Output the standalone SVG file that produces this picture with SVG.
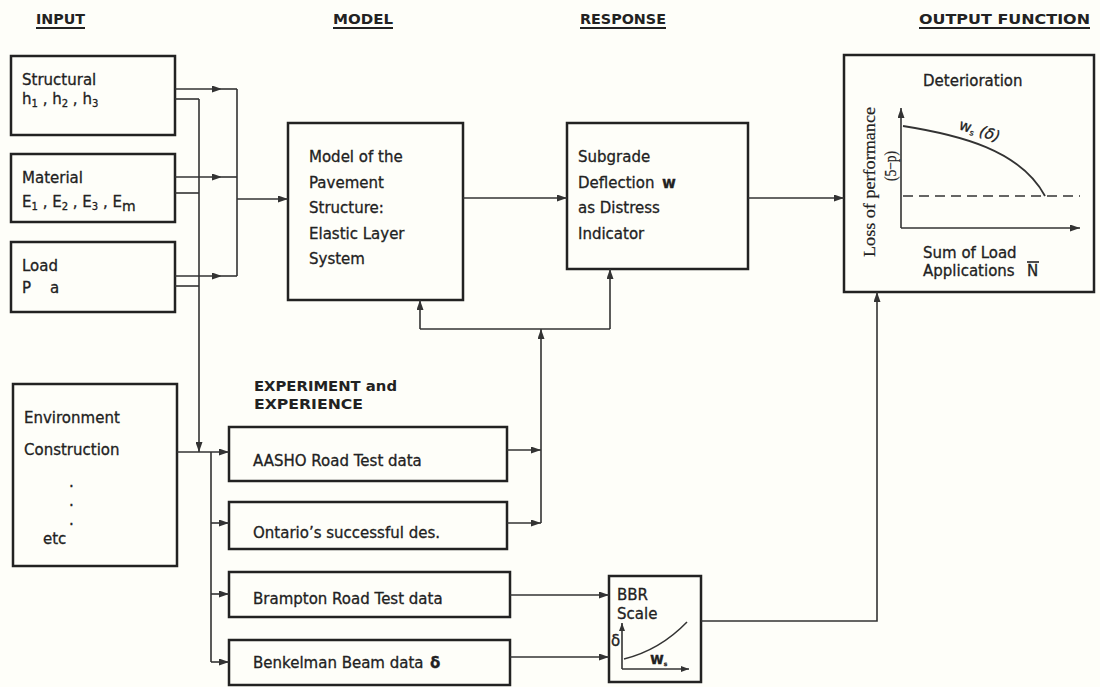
<svg xmlns="http://www.w3.org/2000/svg" width="1100" height="687" viewBox="0 0 1100 687">
<defs>
<marker id="ar" markerUnits="userSpaceOnUse" markerWidth="10" markerHeight="7" refX="10" refY="3.5" orient="auto">
<path d="M0,0 L10,3.5 L0,7 z" fill="#333"/>
</marker>
<marker id="arS" markerUnits="userSpaceOnUse" markerWidth="8" markerHeight="6" refX="8" refY="3" orient="auto">
<path d="M0,0 L8,3 L0,6 z" fill="#333"/>
</marker>
<style>
.box{fill:none;stroke:#222;stroke-width:2.5}
.ln{fill:none;stroke:#333;stroke-width:1.6}
.t{font-family:"DejaVu Sans",sans-serif;font-size:15px;fill:#222;stroke:#222;stroke-width:0.3}
.h{font-family:"DejaVu Sans",sans-serif;font-size:14.5px;font-weight:bold;fill:#222}
.ul{stroke:#222;stroke-width:2}
.sub{font-size:10px}
</style>
</defs>
<rect width="1100" height="687" fill="#fefef9"/>

<g id="headers">
<text class="h" x="36" y="24" textLength="49" lengthAdjust="spacingAndGlyphs">INPUT</text>
<line class="ul" x1="36" y1="28" x2="85" y2="28"/>
<text class="h" x="333" y="24" textLength="60" lengthAdjust="spacingAndGlyphs">MODEL</text>
<line class="ul" x1="333" y1="28" x2="393" y2="28"/>
<text class="h" x="580" y="24" textLength="86" lengthAdjust="spacingAndGlyphs">RESPONSE</text>
<line class="ul" x1="580" y1="28" x2="666" y2="28"/>
<text class="h" x="919" y="24" textLength="171" lengthAdjust="spacingAndGlyphs">OUTPUT FUNCTION</text>
<line class="ul" x1="919" y1="28" x2="1090" y2="28"/>
</g>

<g id="structural">
<rect class="box" x="11" y="56" width="164" height="79"/>
<text class="t" x="22" y="85">Structural</text>
<text class="t" x="22" y="104">h<tspan class="sub" dy="3">1</tspan><tspan dy="-3"> , h</tspan><tspan class="sub" dy="3">2</tspan><tspan dy="-3"> , h</tspan><tspan class="sub" dy="3">3</tspan></text>
</g>

<g id="material">
<rect class="box" x="11" y="154" width="164" height="68"/>
<text class="t" x="22" y="183">Material</text>
<text class="t" x="22" y="207">E<tspan class="sub" dy="3">1</tspan><tspan dy="-3"> , E</tspan><tspan class="sub" dy="3">2</tspan><tspan dy="-3"> , E</tspan><tspan class="sub" dy="3">3</tspan><tspan dy="-3"> , E</tspan><tspan dy="4" font-size="14">m</tspan></text>
</g>

<g id="load">
<rect class="box" x="11" y="242" width="164" height="70"/>
<text class="t" x="22" y="271">Load</text>
<text class="t" x="22" y="293">P</text>
<text class="t" x="50" y="293" font-size="14" fill="#777" stroke="#777">a</text>
</g>

<g id="environment">
<rect class="box" x="13" y="384" width="164" height="182"/>
<text class="t" x="24" y="423">Environment</text>
<text class="t" x="24" y="455">Construction</text>
<text class="t" x="69" y="487" fill="#888" stroke="#888">.</text>
<text class="t" x="69" y="506" fill="#888" stroke="#888">.</text>
<text class="t" x="69" y="525" fill="#888" stroke="#888">.</text>
<text class="t" x="43" y="544">etc</text>
</g>

<g id="model">
<rect class="box" x="288" y="123" width="175" height="177"/>
<text class="t" x="309" y="162">Model of the</text>
<text class="t" x="309" y="188">Pavement</text>
<text class="t" x="309" y="213">Structure:</text>
<text class="t" x="309" y="239">Elastic Layer</text>
<text class="t" x="309" y="264">System</text>
</g>

<g id="response">
<rect class="box" x="567" y="123" width="181" height="146"/>
<text class="t" x="578" y="162">Subgrade</text>
<text class="t" x="578" y="188">Deflection</text>
<text class="t" x="662" y="188" font-size="12" font-weight="bold">w</text>
<text class="t" x="578" y="213">as Distress</text>
<text class="t" x="578" y="239">Indicator</text>
</g>

<g id="output">
<rect class="box" x="844" y="55" width="250" height="237"/>
<text class="t" x="923" y="86">Deterioration</text>
<path class="ln" d="M901,228 V108" marker-end="url(#ar)"/>
<path class="ln" d="M901,228 H1080" marker-end="url(#ar)"/>
<path d="M903,126 C960,135 1020,150 1045,196" fill="none" stroke="#333" stroke-width="1.8"/>
<path d="M903,196 H1080" fill="none" stroke="#333" stroke-width="1.6" stroke-dasharray="10,6"/>
<text class="t" font-size="11" transform="translate(958,129) rotate(18)">w<tspan font-size="8" dy="2">s</tspan><tspan dy="-2" font-style="italic"> (δ)</tspan></text>
<text font-family="Liberation Serif, serif" font-size="17" fill="#222" stroke="#222" stroke-width="0.2" transform="translate(875,257) rotate(-90)" textLength="150" lengthAdjust="spacingAndGlyphs">Loss of performance</text>
<text font-family="Liberation Serif, serif" font-size="16" fill="#222" stroke="#222" stroke-width="0.2" transform="translate(896,181) rotate(-90)" textLength="30" lengthAdjust="spacingAndGlyphs">(5−p)</text>
<text class="t" x="923" y="258">Sum of Load</text>
<text class="t" x="923" y="276">Applications</text>
<text class="t" x="1027" y="276">N</text>
<line x1="1027" y1="262" x2="1039" y2="262" stroke="#222" stroke-width="1.6"/>
</g>

<g id="experiment-label">
<text class="h" x="254" y="391" textLength="143" lengthAdjust="spacingAndGlyphs">EXPERIMENT and</text>
<text class="h" x="254" y="409" textLength="109" lengthAdjust="spacingAndGlyphs">EXPERIENCE</text>
</g>

<g id="aasho">
<rect class="box" x="229" y="427" width="278" height="54"/>
<text class="t" x="253" y="466">AASHO Road Test data</text>
</g>
<g id="ontario">
<rect class="box" x="229" y="502" width="278" height="47"/>
<text class="t" x="253" y="538">Ontario’s successful des.</text>
</g>
<g id="brampton">
<rect class="box" x="229" y="572" width="281" height="45"/>
<text class="t" x="253" y="604">Brampton Road Test data</text>
</g>
<g id="benkelman">
<rect class="box" x="229" y="640" width="281" height="45"/>
<text class="t" x="253" y="668">Benkelman Beam data</text>
<text class="t" x="430" y="668" font-size="13" font-weight="bold">δ</text>
</g>

<g id="bbr">
<rect class="box" x="609" y="576" width="92" height="106"/>
<text class="t" x="617" y="600" font-size="14">BBR</text>
<text class="t" x="617" y="619" font-size="14" fill="#555" stroke="#555">Scale</text>
<path class="ln" d="M622,669 V623" marker-end="url(#arS)"/>
<path class="ln" d="M622,669 H689" marker-end="url(#arS)"/>
<path d="M624,659 Q660,650 687,622" fill="none" stroke="#333" stroke-width="1.5"/>
<text class="t" x="611" y="646" font-size="13">δ</text>
<text class="t" x="650" y="664" font-size="9" font-weight="bold">w<tspan font-size="6" dy="2">s</tspan></text>
</g>

<g id="connectors">
<path class="ln" d="M175,89 H222" marker-end="url(#ar)"/>
<path class="ln" d="M222,89 H237"/>
<path class="ln" d="M175,177 H222" marker-end="url(#ar)" stroke="#8a937a"/>
<path class="ln" d="M222,177 H237" stroke="#8a937a"/>
<path class="ln" d="M175,276 H222" marker-end="url(#ar)"/>
<path class="ln" d="M222,276 H237"/>
<path class="ln" d="M237,89 V276"/>
<path class="ln" d="M237,199 H288" marker-end="url(#ar)"/>
<path class="ln" d="M175,99 H199"/>
<path class="ln" d="M175,193 H199"/>
<path class="ln" d="M175,286 H199"/>
<path class="ln" d="M199,99 V452" marker-end="url(#ar)"/>
<path class="ln" d="M177,452 H229" marker-end="url(#ar)"/>
<path class="ln" d="M211,452 V662"/>
<path class="ln" d="M211,523 H229" marker-end="url(#ar)"/>
<path class="ln" d="M211,594 H229" marker-end="url(#ar)"/>
<path class="ln" d="M211,662 H229" marker-end="url(#ar)"/>
<path class="ln" d="M463,198 H567" marker-end="url(#ar)"/>
<path class="ln" d="M748,198 H844" marker-end="url(#ar)"/>
<path class="ln" d="M541,523 V329" marker-end="url(#ar)"/>
<path class="ln" d="M420,329 H610"/>
<path class="ln" d="M420,329 V300" marker-end="url(#ar)"/>
<path class="ln" d="M610,329 V269" marker-end="url(#ar)"/>
<path class="ln" d="M507,450 H541" marker-end="url(#ar)"/>
<path class="ln" d="M507,523 H541" marker-end="url(#ar)"/>
<path class="ln" d="M510,595 H609" marker-end="url(#ar)"/>
<path class="ln" d="M510,657 H609" marker-end="url(#ar)"/>
<path class="ln" d="M701,621 H877 V292" marker-end="url(#ar)"/>
</g>
</svg>
